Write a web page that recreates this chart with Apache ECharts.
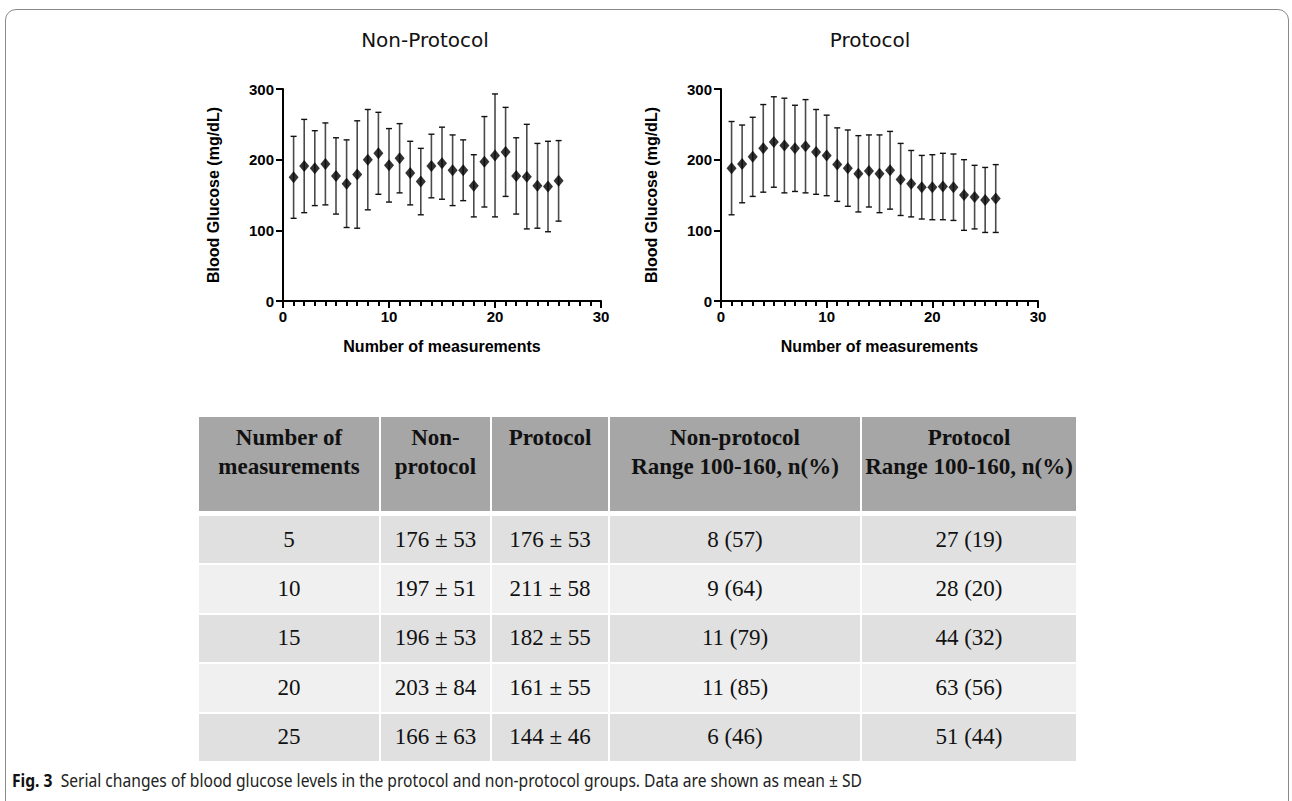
<!DOCTYPE html>
<html>
<head>
<meta charset="utf-8">
<script src="https://cdn.jsdelivr.net/npm/echarts@6/dist/echarts.min.js"></script>
<style>
  html, body { margin:0; padding:0; background:#fff; }
  body { width:1292px; height:801px; position:relative; overflow:hidden; }
  #frame { position:absolute; left:5px; top:9px; width:1284px; height:820px;
           border:1.5px solid #8a8a8a; border-radius:11px; box-sizing:border-box; }
  #chart { position:absolute; left:0; top:0; width:1292px; height:380px; }
  #tbl { position:absolute; left:197px; top:415px; border-collapse:separate; border-spacing:2px;
         table-layout:fixed; font-family:"Liberation Serif","Times New Roman",serif; color:#111; }
  #tbl th { background:#a6a6a6; font-weight:bold; font-size:23px; line-height:29px; white-space:nowrap;
            vertical-align:top; padding:6px 0 0 0; height:94px; box-sizing:border-box; overflow:hidden; }
  #tbl td { font-size:23px; text-align:center; height:47.4px; padding:0; vertical-align:middle; white-space:nowrap; }
  #tbl tr.odd td { background:#e0e0e0; }
  #tbl tr.even td { background:#f0f0f0; }
  #tbl tr.gap td { height:1px; background:#fff; }
  #cap { position:absolute; left:12px; top:767px; font-family:"Noto Sans","Open Sans",sans-serif;
         font-size:18.5px; color:#222; white-space:nowrap; transform-origin:0 0; }
  #cap b { font-weight:bold; color:#111; }
</style>
</head>
<body>
<div id="frame"></div>
<div id="chart"></div>
<table id="tbl"></table>
<div id="cap"><b>Fig. 3</b>&nbsp; Serial changes of blood glucose levels in the protocol and non-protocol groups. Data are shown as mean ± SD</div>
<script>
// ---- chart data ----
const measurements = [1,2,3,4,5,6,7,8,9,10,11,12,13,14,15,16,17,18,19,20,21,22,23,24,25,26];
const nonProtocolMean = [175,191,188,194,177,166,179,200,209,192,202,181,169,191,195,185,185,163,197,206,211,177,176,163,162,170];
const nonProtocolSD   = [58,66,53,58,54,62,76,71,58,52,49,45,47,45,51,50,43,44,64,87,63,54,74,60,64,57];
const protocolMean    = [188,194,204,216,225,220,216,219,211,206,193,188,180,184,180,185,172,166,161,161,162,161,150,147,143,145];
const protocolSD      = [66,55,56,62,64,67,61,66,60,57,52,54,54,51,55,55,51,47,45,46,47,47,50,45,46,48];
const yTicks = [0,100,200,300];
const xTicks = [0,10,20,30];

// ---- table data ----
const tableHeader = ["Number of<br>measurements","Non-<br>protocol","Protocol","Non-protocol<br>Range 100-160, n(%)","Protocol<br>Range 100-160, n(%)"];
const tableRowsN   = ["5","10","15","20","25"];
const tableNonProt = ["176 ± 53","197 ± 51","196 ± 53","203 ± 84","166 ± 63"];
const tableProt    = ["176 ± 53","211 ± 58","182 ± 55","161 ± 55","144 ± 46"];
const tableNonRange= ["8 (57)","9 (64)","11 (79)","11 (85)","6 (46)"];
const tableProtRange=["27 (19)","28 (20)","44 (32)","63 (56)","51 (44)"];
const colWidths = [180,109,116,250,214];

// build table
(function(){
  const t = document.getElementById('tbl');
  let html = '<colgroup>' + colWidths.map(w=>'<col style="width:'+w+'px">').join('') + '</colgroup>';
  html += '<tr>' + tableHeader.map(h=>'<th>'+h+'</th>').join('') + '</tr>';
  html += '<tr class="gap"><td colspan="5"></td></tr>';
  for (let i=0;i<tableRowsN.length;i++){
    html += '<tr class="'+(i%2===0?'odd':'even')+'"><td>'+tableRowsN[i]+'</td><td>'+tableNonProt[i]+
      '</td><td>'+tableProt[i]+'</td><td>'+tableNonRange[i]+'</td><td>'+tableProtRange[i]+'</td></tr>';
  }
  t.innerHTML = html;
  const cap = document.getElementById('cap');
  const w = cap.getBoundingClientRect().width;
  cap.style.transform = 'scaleX(' + (850 / w) + ')';
})();

const chart = echarts.init(document.getElementById('chart'), null, {renderer:'svg', width:1292, height:380});

const labelFont = {color:'#000', fontWeight:'bold', fontSize:15, fontFamily:'Liberation Sans, Arial, sans-serif'};
const nameFont  = {color:'#000', fontWeight:'bold', fontSize:16, fontFamily:'Liberation Sans, Arial, sans-serif'};

function xAxisFor(i){
  return {
    gridIndex:i, type:'value', min:xTicks[0], max:xTicks[xTicks.length-1], interval:xTicks[1]-xTicks[0],
    axisLine:{onZero:false, lineStyle:{color:'#000', width:2}},
    axisTick:{length:7, lineStyle:{color:'#000', width:2}},
    minorTick:{show:true, splitNumber:10, length:5, lineStyle:{color:'#000', width:2}},
    splitLine:{show:false}, minorSplitLine:{show:false},
    axisLabel:Object.assign({margin:8}, labelFont),
    name:'Number of measurements', nameLocation:'middle', nameGap:37, nameTextStyle:nameFont
  };
}
function yAxisFor(i){
  return {
    gridIndex:i, type:'value', min:yTicks[0], max:yTicks[yTicks.length-1], interval:yTicks[1]-yTicks[0],
    axisLine:{show:true, onZero:false, lineStyle:{color:'#000', width:2}},
    axisTick:{show:true, length:7, lineStyle:{color:'#000', width:2}},
    splitLine:{show:false},
    axisLabel:Object.assign({margin:9}, labelFont),
    name:'Blood Glucose (mg/dL)', nameLocation:'middle', nameGap:62, nameTextStyle:nameFont
  };
}
function errData(mean, sd){
  return measurements.map((x,i)=>[x, mean[i]-sd[i], mean[i]+sd[i]]);
}
function errSeries(i, mean, sd){
  return {
    type:'custom', xAxisIndex:i, yAxisIndex:i, data:errData(mean, sd), z:2,
    renderItem:function(params, api){
      const x = api.value(0);
      const lo = api.coord([x, api.value(1)]);
      const hi = api.coord([x, api.value(2)]);
      const cw = 3;
      const st = {stroke:'#4a4a4a', lineWidth:1.6};
      return {type:'group', children:[
        {type:'line', shape:{x1:lo[0], y1:lo[1], x2:hi[0], y2:hi[1]}, style:st},
        {type:'line', shape:{x1:hi[0]-cw, y1:hi[1], x2:hi[0]+cw, y2:hi[1]}, style:{stroke:'#111', lineWidth:1.4}},
        {type:'line', shape:{x1:lo[0]-cw, y1:lo[1], x2:lo[0]+cw, y2:lo[1]}, style:{stroke:'#111', lineWidth:1.4}}
      ]};
    },
    silent:true, animation:false
  };
}
function ptSeries(i, mean){
  return {
    type:'scatter', xAxisIndex:i, yAxisIndex:i, z:3,
    data:measurements.map((x,k)=>[x, mean[k]]),
    symbol:'diamond', symbolSize:[10,12], itemStyle:{color:'#000'}, animation:false, silent:true
  };
}

chart.setOption({
  animation:false,
  grid:[
    {left:283, top:89, width:318, height:212},
    {left:721, top:89, width:317, height:212}
  ],
  xAxis:[xAxisFor(0), xAxisFor(1)],
  yAxis:[yAxisFor(0), yAxisFor(1)],
  graphic:[
    {type:'text', x:425, y:40, style:{text:'Non-Protocol', fill:'#111', font:'20px "DejaVu Sans", sans-serif', textAlign:'center', textVerticalAlign:'middle'}},
    {type:'text', x:870, y:40, style:{text:'Protocol', fill:'#111', font:'20px "DejaVu Sans", sans-serif', textAlign:'center', textVerticalAlign:'middle'}}
  ],
  series:[
    errSeries(0, nonProtocolMean, nonProtocolSD),
    ptSeries(0, nonProtocolMean),
    errSeries(1, protocolMean, protocolSD),
    ptSeries(1, protocolMean)
  ]
});
</script>
</body>
</html>
